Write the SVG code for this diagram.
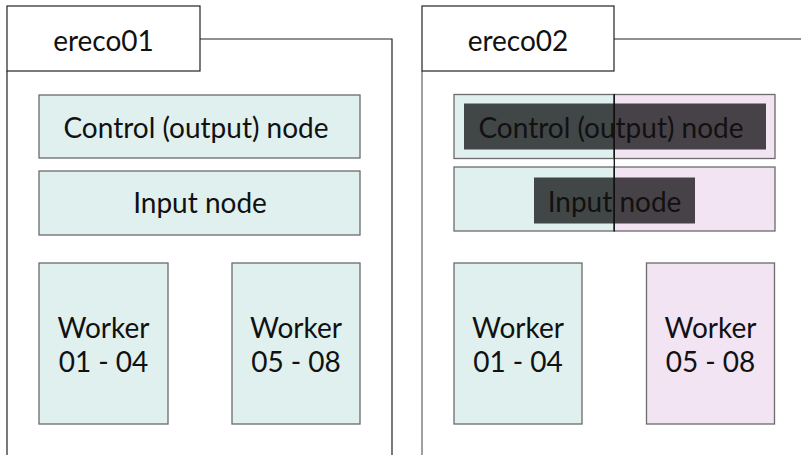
<svg xmlns="http://www.w3.org/2000/svg" width="801" height="455" viewBox="0 0 801 455">
<style>
.t{font-family:Lato,"Open Sans","Liberation Sans",sans-serif;font-size:28px;fill:#111;text-anchor:middle}
.tab{fill:#fff;stroke:#222;stroke-width:1.2}
.a{fill:#dff0ef;stroke:#6b6b6b;stroke-width:1.3}
.b{fill:#f3e4f4;stroke:#6b6b6b;stroke-width:1.3}
.ov{fill:#000;fill-opacity:0.71}
.ln{fill:none;stroke:#222;stroke-width:1.2}
</style>
<rect width="801" height="455" fill="#fff"/>
<g id="ereco01">
<path class="ln" d="M200 39 H392 V455 M7 71 V455"/>
<rect class="tab" x="7" y="6" width="193" height="65"/>
<text class="t" x="103.5" y="51">ereco01</text>
</g>
<g id="ereco01-control">
<rect class="a" x="39" y="95" width="321" height="63"/>
<text class="t" x="196" y="138">Control (output) node</text>
</g>
<g id="ereco01-input">
<rect class="a" x="39" y="171" width="321" height="64"/>
<text class="t" x="200" y="213">Input node</text>
</g>
<g id="ereco01-worker1">
<rect class="a" x="39" y="263" width="129" height="161"/>
<text class="t" x="103.5" y="338">Worker</text>
<text class="t" x="103.5" y="372">01 - 04</text>
</g>
<g id="ereco01-worker2">
<rect class="a" x="232" y="263" width="128" height="161"/>
<text class="t" x="296" y="338">Worker</text>
<text class="t" x="296" y="372">05 - 08</text>
</g>
<g id="ereco02">
<path d="M614 39 H801" fill="none" stroke="#222" stroke-width="1.2"/>
<path d="M422 71 V455" fill="none" stroke="#777" stroke-width="1.4"/>
<rect class="tab" x="422" y="6" width="192" height="65"/>
<text class="t" x="518" y="51">ereco02</text>
</g>
<g id="ereco02-control">
<rect class="a" x="454" y="94.5" width="160" height="64"/>
<rect class="b" x="614" y="94.5" width="161" height="64"/>
<rect class="ov" x="464" y="103.5" width="302" height="46"/>
<text class="t" x="611" y="137.5">Control (output) node</text>
</g>
<g id="ereco02-input">
<rect class="a" x="454" y="167" width="160" height="64"/>
<rect class="b" x="614" y="167" width="161" height="64"/>
<rect class="ov" x="534" y="177.5" width="161" height="46"/>
<text class="t" x="614.5" y="212">Input node</text>
</g>
<g id="ereco02-worker1">
<rect class="a" x="454" y="263" width="128" height="161"/>
<text class="t" x="518" y="338">Worker</text>
<text class="t" x="518" y="372">01 - 04</text>
</g>
<g id="ereco02-worker2">
<rect class="b" x="646.5" y="263" width="128" height="161"/>
<text class="t" x="710.5" y="338">Worker</text>
<text class="t" x="710.5" y="372">05 - 08</text>
</g>
<g id="connectors">
<path d="M614.3 94 V231.5" fill="none" stroke="#111" stroke-width="1.3"/>
</g>
</svg>
